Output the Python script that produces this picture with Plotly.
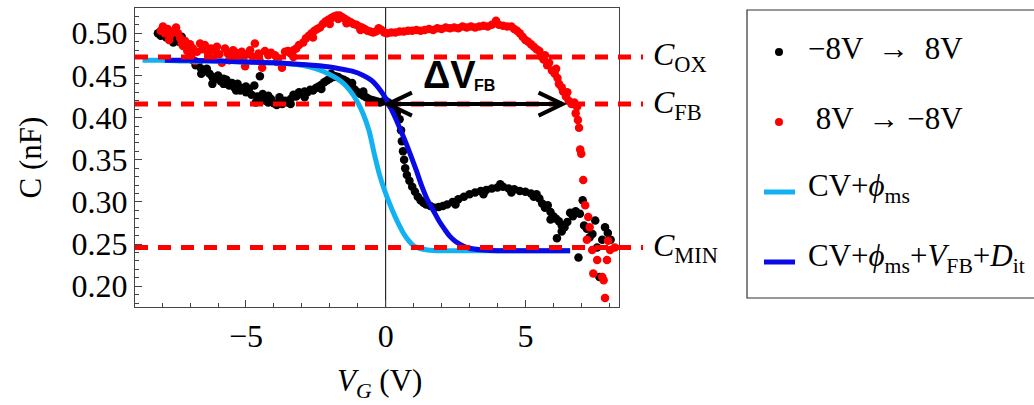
import plotly.graph_objects as go

# ---------------- data ----------------
black_x = [-8.15, -8.05, -7.95, -7.85, -7.7, -7.55, -7.4, -7.3, -7.2, -7.1, -7.0, -6.9, -6.8, -6.7, -6.6,
           -6.5, -6.4, -6.3, -6.2, -6.1, -6.0, -5.9, -5.8, -5.7, -5.6, -5.5, -5.4, -5.3, -5.2, -5.1, -5.0,
           -4.9, -4.8, -4.5, -4.7, -4.6, -4.5, -4.4, -4.3, -4.2, -4.1, -4.0, -3.9, -3.8, -3.7, -3.6, -3.5,
           -3.4, -3.3, -3.2, -3.1, -3.0, -2.9, -2.8, -2.7, -2.6, -2.5, -2.4, -2.3, -2.2, -2.1, -2.0, -1.9,
           -1.8, -1.7, -1.6, -1.5, -1.4, -1.3, -1.2, -1.1, -1.0, -0.9, -0.8, -0.7, -0.6, -0.5, -0.4, -0.3,
           -0.2, -0.1, 0.0, 0.1, 0.2, 0.3, 0.4, 0.5, 0.55, 0.58, 0.62, 0.66, 0.7, 0.76, 0.85, 0.95, 1.05,
           1.15, 1.25, 1.35, 1.45, 1.6, 1.75, 1.9, 2.05, 2.2, 2.4, 2.6, 2.8, 3.0, 3.2, 3.4, 3.6, 3.8, 4.0,
           4.2, 4.4, 4.6, 4.8, 5.0, 5.2, 5.4, 5.5, 5.6, 5.7, 5.8, 5.9, 6.0, 6.1, 6.13, 6.2, 6.3, 6.4, 6.5,
           6.6, 6.7, 6.8, 6.9, 6.95, 7.05, 7.1, 7.2, 7.3, 7.4, 7.5, 7.57, 7.65, 7.75, 7.85, 7.95, 8.05,
           -7.6, -7.0, -6.6, -6.2, -5.8, -5.35, -5.0, -4.65, -4.2, -3.8, -3.4, -2.9, -2.3, -1.95, -1.2,
           -0.8, 3.5, 4.1, 4.5, 2.5, 5.3, 5.9, 6.3]
black_y = [0.500, 0.497, 0.502, 0.495, 0.498, 0.493, 0.490, 0.496, 0.485, 0.487, 0.478, 0.468, 0.462, 0.465, 0.458,
           0.455, 0.458, 0.452, 0.448, 0.446, 0.450, 0.443, 0.440, 0.445, 0.438, 0.441, 0.435, 0.440, 0.432, 0.435, 0.430,
           0.433, 0.427, 0.449, 0.438, 0.425, 0.423, 0.428, 0.420, 0.418, 0.422, 0.417, 0.415, 0.419, 0.416, 0.420, 0.418,
           0.422, 0.427, 0.425, 0.430, 0.428, 0.431, 0.430, 0.433, 0.432, 0.435, 0.437, 0.439, 0.442, 0.444, 0.446, 0.448,
           0.449, 0.448, 0.446, 0.445, 0.443, 0.440, 0.436, 0.433, 0.430, 0.428, 0.426, 0.424, 0.422, 0.421, 0.420, 0.419,
           0.418, 0.419, 0.420, 0.418, 0.414, 0.412, 0.405, 0.398, 0.385, 0.372, 0.360, 0.350, 0.340, 0.332, 0.325, 0.318, 0.312,
           0.306, 0.302, 0.299, 0.297, 0.295, 0.293, 0.294, 0.295, 0.297, 0.300, 0.303, 0.306, 0.309, 0.311, 0.313, 0.314, 0.316, 0.317,
           0.318, 0.316, 0.315, 0.313, 0.312, 0.310, 0.309, 0.304, 0.298, 0.293, 0.296, 0.288, 0.283, 0.280, 0.257, 0.277, 0.272, 0.270, 0.276,
           0.287, 0.283, 0.289, 0.234, 0.286, 0.302, 0.272, 0.268, 0.258, 0.262, 0.278, 0.246, 0.211, 0.255, 0.270, 0.263, 0.255,
           0.489, 0.472, 0.452, 0.440, 0.446, 0.432, 0.437, 0.418, 0.426, 0.424, 0.416, 0.424, 0.434, 0.452, 0.441,
           0.431, 0.309, 0.321, 0.311, 0.297, 0.306, 0.279, 0.265]

red_x = [-8.05, -7.97, -7.9, -7.8, -7.7, -7.6, -7.5, -7.43, -7.35, -7.25, -7.18, -7.1, -7.0, -6.9, -6.82, -6.75,
         -6.64, -6.55, -6.47, -6.35, -6.25, -6.11, -6.04, -5.95, -5.86, -5.75, -5.65, -5.55, -5.46, -5.35, -5.25,
         -5.15, -5.03, -4.95, -4.85, -4.75, -4.68, -4.55, -4.42, -4.32, -4.2, -4.1, -3.96, -3.85, -3.71, -3.6,
         -3.5, -3.4, -3.3, -3.2, -3.1, -2.95, -2.85, -2.75, -2.65, -2.55, -2.45, -2.35, -2.25, -2.15, -2.05, -1.95,
         -1.85, -1.75, -1.65, -1.55, -1.45, -1.35, -1.25, -1.15, -1.05, -0.95, -0.85, -0.75, -0.65, -0.55, -0.45,
         -0.35, -0.25, -0.15, -0.05, 0.05, 0.2, 0.35, 0.5, 0.65, 0.8, 0.95, 1.1, 1.25, 1.4, 1.55, 1.7, 1.85, 2.0,
         2.15, 2.3, 2.45, 2.6, 2.75, 2.9, 3.05, 3.2, 3.35, 3.5, 3.65, 3.8, 3.95, 4.05, 4.2, 4.35, 4.5, 4.6, 4.7,
         4.8, 4.9, 5.0, 5.1, 5.2, 5.3, 5.4, 5.5, 5.55, 5.65, 5.7, 5.78, 5.85, 5.95, 6.05, 6.1, 6.15, 6.2, 6.3,
         6.35, 6.45, 6.5, 6.55, 6.65, 6.75, 6.85, 6.8, 6.88, 6.92, 6.96, 7.0, 7.07, 7.14, 7.25, 7.3, 7.2, 7.39,
         7.57, 7.43, 7.75, 7.8, 7.85, 7.96, 8.03, 7.92, 8.2,
         -7.75, -7.3, -6.95, -6.3, -5.6, -5.1, -4.5, -3.9, -3.3, -2.6, -2.0, -1.7, -1.4, -0.9]
red_y = [0.503, 0.508, 0.500, 0.505, 0.498, 0.502, 0.507, 0.500, 0.494, 0.485, 0.491, 0.479, 0.487, 0.482, 0.467, 0.478,
         0.488, 0.481, 0.486, 0.476, 0.482, 0.479, 0.484, 0.475, 0.465, 0.482, 0.476, 0.472, 0.480, 0.477, 0.473,
         0.478, 0.461, 0.475, 0.480, 0.472, 0.488, 0.476, 0.459, 0.479, 0.474, 0.477, 0.474, 0.470, 0.459, 0.478,
         0.479, 0.476, 0.480, 0.482, 0.486, 0.489, 0.494, 0.497, 0.500, 0.503, 0.505, 0.507, 0.511, 0.514, 0.516, 0.518,
         0.520, 0.521, 0.521, 0.519, 0.517, 0.515, 0.513, 0.511, 0.510, 0.508, 0.507, 0.505, 0.503, 0.502, 0.501,
         0.502, 0.506, 0.504, 0.501, 0.500, 0.501, 0.501, 0.502, 0.502, 0.503, 0.503, 0.504, 0.503, 0.504, 0.505, 0.504, 0.506, 0.505,
         0.507, 0.506, 0.507, 0.506, 0.508, 0.507, 0.508, 0.507, 0.508, 0.509, 0.508, 0.510, 0.515, 0.510, 0.509, 0.508, 0.508, 0.505, 0.503,
         0.500, 0.496, 0.492, 0.490, 0.487, 0.484, 0.481, 0.479, 0.473, 0.469, 0.474, 0.462, 0.465, 0.456, 0.452, 0.458, 0.447, 0.440, 0.436,
         0.431, 0.425, 0.430, 0.420, 0.416, 0.418, 0.413, 0.405, 0.397, 0.388, 0.362, 0.357, 0.326, 0.296, 0.282, 0.270, 0.255, 0.243,
         0.231, 0.215, 0.211, 0.207, 0.186, 0.254, 0.243, 0.231, 0.246,
         0.492, 0.488, 0.475, 0.470, 0.468, 0.470, 0.467, 0.466, 0.472, 0.495, 0.511, 0.517, 0.512, 0.504]

cv_x = [-8.7, -8.0, -7.0, -6.0, -5.0, -4.0, -3.0, -2.5, -2.0, -1.6, -1.3, -1.0, -0.8, -0.6, -0.4, -0.2,
        0.0, 0.2, 0.4, 0.6, 0.8, 1.0, 1.2, 1.5, 2.0, 3.0, 4.0, 5.0, 6.0, 6.6]
cv_y = [0.468, 0.468, 0.467, 0.467, 0.466, 0.465, 0.462, 0.458, 0.451, 0.443, 0.433, 0.418, 0.404, 0.385, 0.356, 0.330,
        0.310, 0.293, 0.278, 0.265, 0.255, 0.248, 0.245, 0.243, 0.242, 0.242, 0.242, 0.242, 0.242, 0.242]

cvfb_x = [-7.9, -7.0, -6.0, -5.0, -4.0, -3.0, -2.0, -1.5, -1.2, -0.8, -0.5, -0.3, -0.1, 0.1, 0.3, 0.5, 0.7,
          0.9, 1.1, 1.3, 1.5, 1.7, 1.9, 2.1, 2.3, 2.5, 2.7, 3.0, 3.5, 4.0, 5.0, 6.0, 6.6]
cvfb_y = [0.468, 0.468, 0.467, 0.466, 0.465, 0.463, 0.460, 0.457, 0.455, 0.450, 0.444, 0.437, 0.428, 0.417, 0.403, 0.388, 0.372,
          0.355, 0.337, 0.318, 0.302, 0.290, 0.278, 0.268, 0.259, 0.253, 0.249, 0.245, 0.243, 0.242, 0.242, 0.242, 0.242]

level_names = ["OX", "FB", "MIN"]
level_values = [0.472, 0.416, 0.246]

vfb_arrow = [0.08, 6.33]          # ΔV_FB arrow ends (V) at C_FB

legend_labels = ["\u22128V  \u2192  8V",
                 " 8V  \u2192 \u22128V",
                 "CV+<i>\u03d5</i><sub>ms</sub>",
                 "CV+<i>\u03d5</i><sub>ms</sub>+<i>V</i><sub>FB</sub>+<i>D</i><sub>it</sub>"]

# ---------------- layout geometry ----------------
W, H = 1034, 405
ML, MR, MT, MB = 135, 415, 8, 98
PW, PH = W - ML - MR, H - MT - MB
XR = [-8.97, 8.35]
YR = [0.1753, 0.530]
ux = (XR[1] - XR[0]) / PW      # V per pixel
uy = (YR[1] - YR[0]) / PH      # nF per pixel

def px_x(p):  # pixel x -> paper
    return (p - ML) / PW

def px_y(p):  # pixel y -> paper
    return (H - MB - p) / PH

SERIF = "Liberation Serif"
RED = "#ff0000"
LBLUE = "#12b2f2"
DBLUE = "#0a0ae6"

fig = go.Figure()
fig.add_trace(go.Scatter(x=black_x, y=black_y, mode="markers",
                         marker=dict(color="black", size=8.5), showlegend=False))
fig.add_trace(go.Scatter(x=red_x, y=red_y, mode="markers",
                         marker=dict(color=RED, size=8.5), showlegend=False))
fig.add_trace(go.Scatter(x=cv_x, y=cv_y, mode="lines", line=dict(color=LBLUE, width=5, shape="spline"),
                         showlegend=False))
fig.add_trace(go.Scatter(x=cvfb_x, y=cvfb_y, mode="lines", line=dict(color=DBLUE, width=5, shape="spline"),
                         showlegend=False))

shapes = []
annotations = []
# vertical line at 0
shapes.append(dict(type="line", xref="x", yref="paper", x0=0, x1=0, y0=0, y1=1,
                   line=dict(color="black", width=1), layer="below"))
# dashed reference levels, extending past the frame
for name, v in zip(level_names, level_values):
    shapes.append(dict(type="line", xref="paper", yref="y", x0=0, x1=px_x(643), y0=v, y1=v,
                       line=dict(color=RED, width=5, dash="13px,10px"), layer="above"))
    annotations.append(dict(xref="paper", yref="y", x=px_x(651), y=v, xanchor="left", yanchor="middle",
                            text="<i>C</i><sub>%s</sub>" % name, showarrow=False,
                            font=dict(family=SERIF, size=32, color="black")))

# ΔV_FB arrow
yfb = level_values[1]
x0a, x1a = vfb_arrow
ax, ay = 24 * ux, 11.5 * uy
shapes.append(dict(type="line", xref="x", yref="y", x0=x0a, x1=x1a, y0=yfb, y1=yfb,
                   line=dict(color="black", width=4), layer="above"))
shapes.append(dict(type="path", xref="x", yref="y",
                   path="M %f,%f L %f,%f L %f,%f" % (x0a + ax, yfb + ay, x0a, yfb, x0a + ax, yfb - ay),
                   line=dict(color="black", width=4), layer="above"))
shapes.append(dict(type="path", xref="x", yref="y",
                   path="M %f,%f L %f,%f L %f,%f" % (x1a - ax, yfb + ay, x1a, yfb, x1a - ax, yfb - ay),
                   line=dict(color="black", width=4), layer="above"))
annotations.append(dict(xref="x", yref="y", x=x0a + 1.2, y=yfb + 0.007, xanchor="left", yanchor="bottom",
                        text="<b>\u0394V</b>", showarrow=False,
                        font=dict(family="Liberation Sans", size=38, color="black")))
annotations.append(dict(xref="x", yref="y", x=x0a + 3.0, y=yfb + 0.010, xanchor="left", yanchor="bottom",
                        text="<b>FB</b>", showarrow=False,
                        font=dict(family="Liberation Sans", size=16, color="black")))

# axis titles
annotations.append(dict(xref="paper", yref="paper", x=px_x(30), y=0.5, xanchor="center", yanchor="middle",
                        textangle=-90, text="C (nF)", showarrow=False,
                        font=dict(family=SERIF, size=31, color="black")))
annotations.append(dict(xref="paper", yref="paper", x=px_x(379), y=px_y(383), xanchor="center", yanchor="middle",
                        text="<i>V</i><sub><i>G</i></sub> (V)", showarrow=False,
                        font=dict(family=SERIF, size=31, color="black")))

# legend box (cut by the figure edge, as in the reference)
shapes.append(dict(type="rect", xref="paper", yref="paper", x0=px_x(747), x1=px_x(1100),
                   y0=px_y(298), y1=px_y(10), line=dict(color="#333333", width=1.2)))
row_y = [52, 122, 192, 262]
for i, lab in enumerate(legend_labels):
    yy = px_y(row_y[i])
    if i < 2:
        col = "black" if i == 0 else RED
        shapes.append(dict(type="circle", xref="paper", yref="paper", xsizemode="pixel", ysizemode="pixel",
                           xanchor=px_x(779), yanchor=yy, x0=-4, x1=4, y0=-4, y1=4,
                           fillcolor=col, line=dict(width=0)))
    else:
        col = LBLUE if i == 2 else DBLUE
        shapes.append(dict(type="line", xref="paper", yref="paper", x0=px_x(764), x1=px_x(795),
                           y0=yy, y1=yy, line=dict(color=col, width=5)))
    annotations.append(dict(xref="paper", yref="paper", x=px_x(806), y=px_y(row_y[i] - 4),
                            xanchor="left", yanchor="middle", text=lab, showarrow=False,
                            font=dict(family=SERIF, size=31, color="black")))

axis_common = dict(showgrid=False, zeroline=False, showline=True, linecolor="#444444", linewidth=1.2,
                   mirror=True, ticks="inside", tickcolor="#444444", tickwidth=1, automargin=False,
                   tickfont=dict(family=SERIF, size=32, color="black"))
fig.update_layout(
    width=W, height=H, margin=dict(l=ML, r=MR, t=MT, b=MB, autoexpand=False),
    paper_bgcolor="white", plot_bgcolor="white",
    shapes=shapes, annotations=annotations, showlegend=False,
    xaxis=dict(range=XR, tickvals=[-5, 0, 5], ticklen=7,
               minor=dict(dtick=1, tick0=0, ticks="inside", ticklen=4, tickcolor="#444444", showgrid=False),
               **axis_common),
    yaxis=dict(range=YR, tickvals=[0.20, 0.25, 0.30, 0.35, 0.40, 0.45, 0.50], tickformat=".2f", ticklen=7,
               minor=dict(dtick=0.01, tick0=0, ticks="inside", ticklen=4, tickcolor="#444444", showgrid=False),
               **axis_common),
)
fig.write_html("out.html", config={"displayModeBar": False},
               post_script="document.body.style.margin='0';document.body.style.overflow='hidden';")
